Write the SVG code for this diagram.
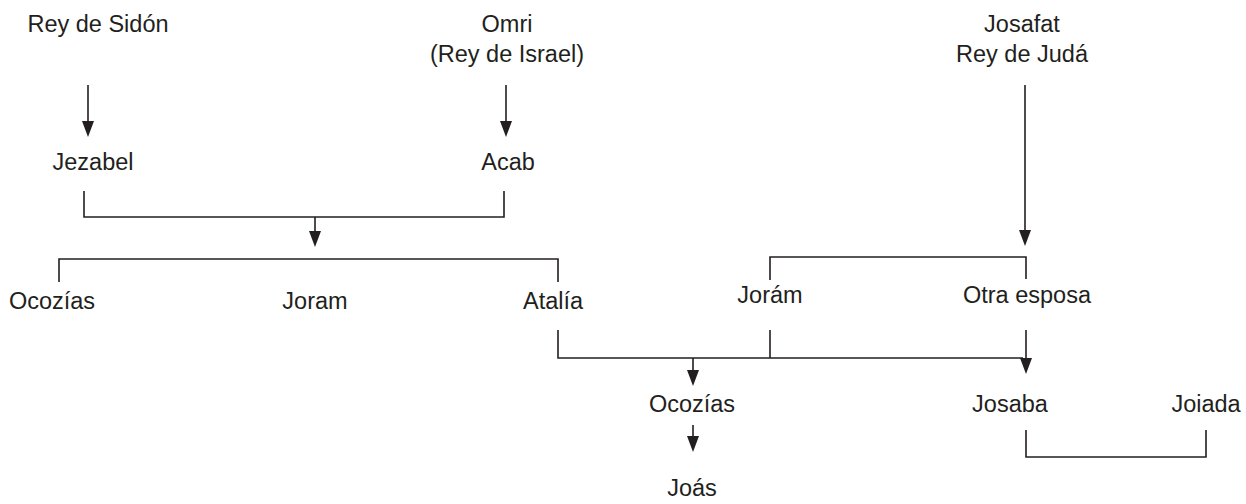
<svg xmlns="http://www.w3.org/2000/svg" width="1246" height="504" viewBox="0 0 1246 504">
<style>
text{font-family:"Liberation Sans",Arial,sans-serif;font-size:23.5px;fill:#231f20;text-anchor:middle}
.ln{fill:none;stroke:#231f20;stroke-width:1.6}
.hd{fill:#231f20;stroke:none}
</style>
<rect width="1246" height="504" fill="#fff"/>
<g id="connectors">
<path class="ln" d="M88,85 V122"/>
<path class="ln" d="M506,85 V122"/>
<path class="ln" d="M84,191 V217 H504 V191"/>
<path class="ln" d="M315,217 V232"/>
<path class="ln" d="M59,282 V259 H558 V282"/>
<path class="ln" d="M558,330 V358 H1023"/>
<path class="ln" d="M770,330 V358"/>
<path class="ln" d="M1026,330 V359"/>
<path class="ln" d="M693,358 V371"/>
<path class="ln" d="M693,425 V437"/>
<path class="ln" d="M1025,85 V231"/>
<path class="ln" d="M770,280 V257 H1026 V279"/>
<path class="ln" d="M1026,430 V457 H1206 V430"/>
<path class="hd" d="M82,121 L94,121 L88,137 Z"/>
<path class="hd" d="M500,121 L512,121 L506,137 Z"/>
<path class="hd" d="M309,231 L321,231 L315,247 Z"/>
<path class="hd" d="M1020,358 L1032,358 L1026,374 Z"/>
<path class="hd" d="M687,370 L699,370 L693,386 Z"/>
<path class="hd" d="M687,436 L699,436 L693,452 Z"/>
<path class="hd" d="M1019,230 L1031,230 L1025,246 Z"/>
</g>
<g id="n-sidon"><text x="98" y="32">Rey de Sidón</text></g>
<g id="n-omri"><text x="507" y="32">Omri</text><text x="507" y="62">(Rey de Israel)</text></g>
<g id="n-josafat"><text x="1022" y="32">Josafat</text><text x="1022" y="62">Rey de Judá</text></g>
<g id="n-jezabel"><text x="93" y="170">Jezabel</text></g>
<g id="n-acab"><text x="508" y="170">Acab</text></g>
<g id="n-ocozias1"><text x="52" y="309">Ocozías</text></g>
<g id="n-joram"><text x="315" y="309">Joram</text></g>
<g id="n-atalia"><text x="553" y="309">Atalía</text></g>
<g id="n-joram2"><text x="770" y="303">Jorám</text></g>
<g id="n-otra"><text x="1027" y="303">Otra esposa</text></g>
<g id="n-ocozias2"><text x="692" y="412">Ocozías</text></g>
<g id="n-josaba"><text x="1010" y="412">Josaba</text></g>
<g id="n-joiada"><text x="1206" y="412">Joiada</text></g>
<g id="n-joas"><text x="692" y="496">Joás</text></g>
</svg>
